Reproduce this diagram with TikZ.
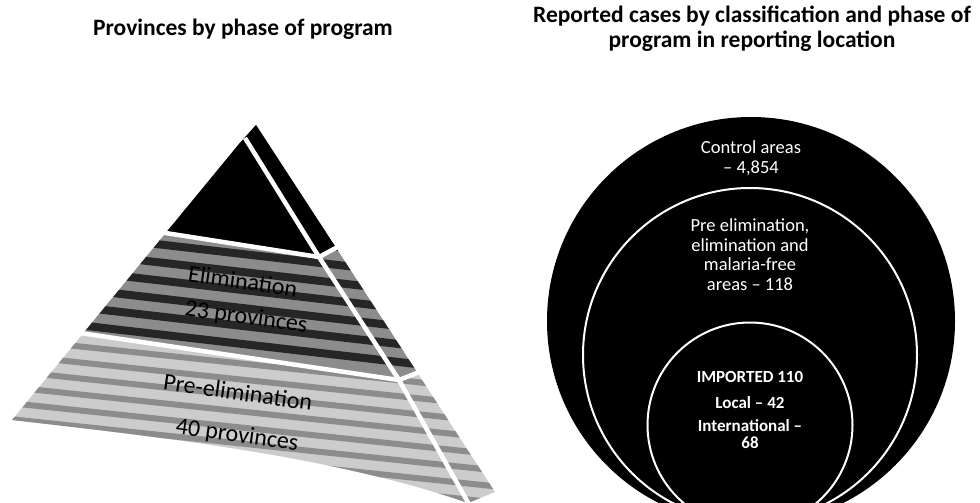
\documentclass[tikz,border=0pt]{standalone}
\usepackage{fontspec}
\setmainfont{Carlito}
\usepackage{tikz}

% outline of the pyramid, both faces
\newcommand{\pyramidoutline}{(239,144) -- (256,125) -- (495,492) -- (468,503)
  .. controls (330,455) and (150,436) .. (12,420) -- cycle}

\begin{document}
\begin{tikzpicture}[x=1pt,y=-1pt,
    title/.style={font=\fontsize{23.5}{25}\selectfont\bfseries,align=center},
    facetext/.style={font=\fontsize{24}{26}\selectfont,rotate=-8,text=black},
    disctext/.style={font=\fontsize{18.5}{19.5}\selectfont,text=white,align=center,anchor=base},
    boldtext/.style={font=\fontsize{17}{17}\selectfont\bfseries,text=white,align=center,anchor=base},
    ring/.style={circle,draw=white,line width=2pt,inner sep=0pt},
    cut/.style={white,line width=4.5pt},
    streak/.style={line width=6pt}]
  \useasboundingbox (0,0) rectangle (980,503);
  \clip (0,0) rectangle (980,503);
  % titles
  \node[title,anchor=base] (lefttitle) at (243,36) {Provinces by phase of program};
  \node[title,anchor=base] (righttitle) at (752,48) {Reported cases by classification and phase of\\program in reporting location};
  % pyramid
  \begin{scope}
    \clip \pyramidoutline;
    \fill[black!20] (0,100) rectangle (520,503);
    \foreach \s in {290,306,...,500}
      \draw[streak,black!45] (0,\s) -- (520,\s+55);
    \fill[black!45] (0,100) -- (0,323) -- (399,380) -- (440,364) -- (600,100) -- cycle;
    \begin{scope}
      \clip (0,100) -- (0,323) -- (399,380) -- (440,364) -- (600,100) -- cycle;
      \foreach \s in {190,208,...,330}
        \draw[streak,black!85,line width=8pt] (0,\s) -- (520,\s+60);
    \end{scope}
    \fill[black] (100,100) -- (100,222) -- (319,257) -- (345,243) -- (400,100) -- cycle;
  \end{scope}
  \draw[cut] (245,138) -- (319,257) -- (399,380) -- (470,506);
  \draw[cut] (140,229) -- (319,257) -- (345,243);
  \draw[cut] (60,330) -- (399,380) -- (440,364);
  \node[facetext] (elimtxt) at (243,281) {Elimination};
  \node[facetext] (elimnum) at (246,318) {23 provinces};
  \node[facetext] (preelimtxt) at (238,392) {Pre-elimination};
  \node[facetext] (preelimnum) at (237,436) {40 provinces};
  % nested circles
  \node[circle,fill=black,inner sep=0pt,minimum size=408pt] (controlarea) at (751,321) {};
  \node[ring,minimum size=334pt] (eliminationarea) at (750,355) {};
  \node[ring,minimum size=205pt] (importedarea) at (750,425) {};
  \node[disctext] (controllabel) at (751,173) {Control areas\\– 4,854};
  \node[disctext] (elimlabel) at (750,290) {Pre elimination,\\elimination and\\malaria-free\\areas – 118};
  \node[boldtext] (importedlabel) at (750,382) {IMPORTED 110};
  \node[boldtext] (locallabel) at (750,408) {Local – 42};
  \node[boldtext] (intllabel) at (750,448) {International –\\68};
\end{tikzpicture}
\end{document}
